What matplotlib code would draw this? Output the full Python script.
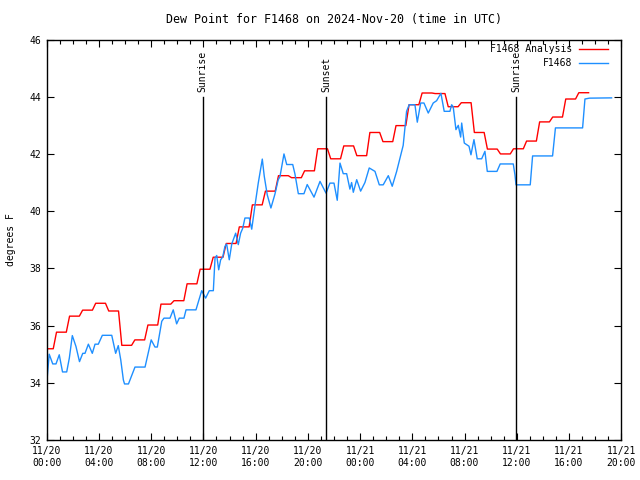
import numpy as np
import matplotlib
matplotlib.use("Agg")
import matplotlib.pyplot as plt

# Analysis: one value per hour (11/20 00:00 = hour 0)
red_vals = [35.19, 35.77, 36.33, 36.54, 36.78, 36.51, 35.31, 35.50, 36.02, 36.75,
            36.87, 37.46, 37.97, 38.39, 38.87, 39.45, 40.22, 40.70, 41.24, 41.17,
            41.41, 42.18, 41.83, 42.28, 41.94, 42.75, 42.43, 42.99, 43.72, 44.13,
            44.11, 43.65, 43.79, 42.75, 42.17, 42.00, 42.18, 42.45, 43.12, 43.29,
            43.92, 44.14]

# Observed station (hours since 11/20 00:00, deg F)
obs_h = [0.00, 0.19, 0.46, 0.71, 0.96, 1.21, 1.53, 1.73, 1.96, 2.24, 2.51, 2.76,
         2.93, 3.19, 3.49, 3.70, 3.95, 4.26, 4.98, 5.28, 5.48, 5.67, 5.87, 5.96,
         6.26, 6.76, 7.53, 8.00, 8.29, 8.47, 8.81, 8.98, 9.44, 9.69, 9.95, 10.15,
         10.51, 10.67, 11.43, 11.87, 12.17, 12.45, 12.76, 12.89, 13.02, 13.17,
         13.32, 13.48, 13.65, 13.78, 13.98, 14.17, 14.47, 14.67, 14.85, 15.01,
         15.18, 15.51, 15.70, 15.95, 16.20, 16.51, 16.66, 16.89, 17.17, 17.48,
         17.73, 17.86, 18.17, 18.38, 18.84, 19.01, 19.27, 19.70, 19.95, 20.47,
         20.93, 21.39, 21.69, 22.00, 22.25, 22.46, 22.71, 22.97, 23.22, 23.35,
         23.48, 23.74, 24.04, 24.37, 24.70, 25.14, 25.47, 25.77, 26.16, 26.46,
         26.80, 27.05, 27.30, 27.56, 27.76, 28.20, 28.38, 28.64, 28.89, 29.22,
         29.60, 29.86, 30.19, 30.44, 30.88, 31.01, 31.13, 31.34, 31.52, 31.70,
         31.78, 31.98, 32.34, 32.49, 32.72, 32.97, 33.31, 33.56, 33.74, 34.48,
         34.73, 35.73, 35.86, 35.94, 37.03, 37.21, 38.74, 38.96, 41.04, 41.22,
         41.56, 43.26]
obs_v = [33.98, 35.00, 34.66, 34.66, 34.98, 34.38, 34.38, 34.86, 35.65, 35.27,
         34.74, 35.03, 35.03, 35.35, 35.03, 35.35, 35.35, 35.66, 35.66, 35.03,
         35.30, 34.80, 34.10, 33.96, 33.96, 34.55, 34.55, 35.50, 35.25, 35.25,
         36.15, 36.26, 36.26, 36.55, 36.06, 36.26, 36.26, 36.55, 36.55, 37.22,
         36.96, 37.22, 37.22, 38.36, 38.45, 37.95, 38.30, 38.40, 38.77, 38.85,
         38.30, 38.85, 39.23, 38.83, 39.23, 39.40, 39.76, 39.76, 39.37, 40.20,
         40.98, 41.82, 41.22, 40.57, 40.11, 40.60, 41.10, 41.20, 42.00, 41.63,
         41.63, 41.30, 40.61, 40.61, 40.93, 40.49, 41.04, 40.63, 40.98, 40.98,
         40.38, 41.68, 41.31, 41.31, 40.77, 41.00, 40.66, 41.10, 40.70, 41.00,
         41.51, 41.39, 40.92, 40.92, 41.24, 40.87, 41.39, 41.85, 42.30, 43.49,
         43.72, 43.72, 43.11, 43.78, 43.78, 43.43, 43.78, 43.86, 44.12, 43.49,
         43.49, 43.72, 43.65, 42.85, 43.00, 42.59, 43.08, 42.38, 42.27, 41.97,
         42.50, 41.83, 41.83, 42.09, 41.39, 41.39, 41.65, 41.65, 41.27, 40.92,
         40.92, 41.93, 41.93, 42.91, 42.91, 43.92, 43.95, 43.96]

events = ["Sunrise", "Sunset", "Sunrise"]
event_h = [11.94, 21.41, 35.96]

xtick_h = [0, 4, 8, 12, 16, 20, 24, 28, 32, 36, 40, 44]
xtick_labels = ["11/20\n00:00", "11/20\n04:00", "11/20\n08:00", "11/20\n12:00",
                "11/20\n16:00", "11/20\n20:00", "11/21\n00:00", "11/21\n04:00",
                "11/21\n08:00", "11/21\n12:00", "11/21\n16:00", "11/21\n20:00"]

# analysis values are held from h-15min to h+30min
red_h, red_v = [], []
for k, v in enumerate(red_vals):
    red_h += [max(k - 0.25, 0), k + 0.5]
    red_v += [v, v]

plt.rcParams['font.family'] = 'DejaVu Sans Mono'
plt.rcParams['font.size'] = 7

fig = plt.figure(figsize=(6.4, 4.8), dpi=100)
ax = fig.add_axes([0.073, 0.0833, 0.8977, 0.8344])

ax.plot(red_h, red_v, color='#ff0000', lw=1.0, label='F1468 Analysis')
ax.plot(obs_h, obs_v, color='#1e8fff', lw=1.0, label='F1468')

for name, h in zip(events, event_h):
    ax.plot([h, h], [32, 44.0], color='black', lw=1.0)
    ax.text(h, 44.15, name, rotation=90, ha='center', va='bottom')

ax.set_xlim(0, 44)
ax.set_ylim(32, 46)
ax.set_xticks(xtick_h)
ax.set_xticklabels(xtick_labels, linespacing=1.25)
ax.set_xticks(np.arange(0, 45, 1), minor=True)
ax.set_yticks(np.arange(32, 47, 2))
ax.tick_params(which='both', direction='in', top=True, right=True)
ax.tick_params(which='major', length=5, width=0.8, pad=4)
ax.tick_params(which='minor', length=3, width=0.8)
for s in ax.spines.values():
    s.set_linewidth(1.0)

ax.set_ylabel('degrees F', labelpad=10)
ax.set_title('Dew Point for F1468 on 2024-Nov-20 (time in UTC)', pad=12)
ax.legend(loc='upper right', bbox_to_anchor=(0.985, 1.0), frameon=False,
          markerfirst=False, handlelength=3.0, borderaxespad=0.1,
          labelspacing=0.4, handletextpad=0.7)

fig.savefig('out.png', dpi=100)
